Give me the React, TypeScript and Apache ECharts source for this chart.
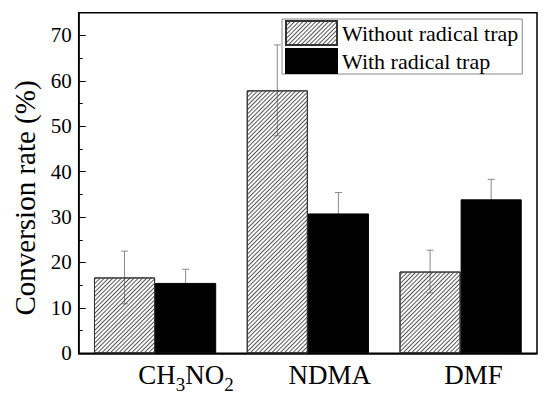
import React, { useEffect, useRef } from "react";
import * as echarts from "echarts";

const categories = ["CH3NO2", "NDMA", "DMF"];
const withoutTrap = [16.7, 57.9, 18.0];
const withoutErr = [5.8, 10.0, 4.7];
const withTrap = [15.5, 30.8, 33.9];
const withErr = [3.0, 4.6, 4.4];
const seriesNames = ["Without radical trap", "With radical trap"];
const labelShift: Record<string, number> = { CH3NO2: 62, NDMA: 44, DMF: 26 };

const FONT = "'Liberation Serif', 'Times New Roman', serif";

export default function App() {
  const ref = useRef<HTMLDivElement>(null);
  useEffect(() => {
    if (!ref.current) return;
    const chart = echarts.init(ref.current, null, { renderer: "svg" });
    const hatch = {
      symbol: "rect",
      dashArrayX: [1, 0],
      dashArrayY: [1, 1.5],
      rotation: -Math.PI / 4,
      color: "#555",
      symbolSize: 1,
    };
    const errSeries = (vals: number[], errs: number[], sign: number) => ({
      type: "custom",
      z: 1,
      silent: true,
      data: vals.map((v, i) => [i, v, errs[i]]),
      encode: { x: 0, y: 1 },
      renderItem: (params: any, api: any) => {
        const i = api.value(0);
        const v = api.value(1);
        const e = api.value(2);
        const band = api.size([1, 0])[0];
        const off = sign * band * 0.2;
        const top = api.coord([i, v + e]);
        const bot = api.coord([i, v - e]);
        const x = top[0] + off;
        const cap = 3.5;
        const st = { stroke: "#8a8a8a", lineWidth: 1 };
        return {
          type: "group",
          children: [
            { type: "line", shape: { x1: x, y1: top[1], x2: x, y2: bot[1] }, style: st },
            { type: "line", shape: { x1: x - cap, y1: top[1], x2: x + cap, y2: top[1] }, style: st },
            { type: "line", shape: { x1: x - cap, y1: bot[1], x2: x + cap, y2: bot[1] }, style: st },
          ],
        };
      },
    });
    const rich: any = {
      s: { fontFamily: FONT, fontSize: 19, color: "#000", lineHeight: 14, verticalAlign: "bottom" },
      n: { fontFamily: FONT, fontSize: 27, color: "#000", lineHeight: 38 },
    };
    categories.forEach((c, k) => {
      rich["p" + k] = { width: labelShift[c], height: 10 };
    });
    chart.setOption({
      animation: false,
      textStyle: { fontFamily: FONT },
      grid: {
        left: 78.7,
        right: 13,
        top: 12.7,
        bottom: 51.7,
        show: true,
        borderColor: "#000",
        borderWidth: 1.5,
        backgroundColor: "#fff",
      },
      legend: {
        data: seriesNames,
        orient: "vertical",
        left: 282,
        top: 19,
        itemWidth: 51,
        itemHeight: 24,
        itemGap: 2,
        padding: [1, 4, 0, 3],
        borderColor: "#888",
        borderWidth: 1,
        backgroundColor: "#fff",
        icon: "rect",
        selectedMode: false,
        textStyle: { fontFamily: FONT, fontSize: 22, color: "#000", lineHeight: 22 },
      },
      xAxis: {
        type: "category",
        data: categories,
        axisTick: { show: false },
        axisLine: { lineStyle: { color: "#000", width: 1.5 } },
        axisLabel: {
          interval: 0,
          margin: 3,
          formatter: (val: string) => {
            const k = categories.indexOf(val);
            const body = val
              .split(/(\d)/)
              .filter((t) => t.length)
              .map((t) => (/\d/.test(t) ? `{s|${t}}` : `{n|${t}}`))
              .join("");
            return `{p${k}|}` + body;
          },
          rich,
        },
      },
      yAxis: [
        {
          type: "value",
          min: 0,
          max: 75,
          interval: 10,
          name: "Conversion rate (%)",
          nameLocation: "middle",
          nameRotate: 90,
          nameGap: 39,
          nameTextStyle: { fontFamily: FONT, fontSize: 29, color: "#000", padding: [0, 30, 0, 0] },
          axisLine: { show: true, lineStyle: { color: "#000", width: 1.5 } },
          axisTick: { show: true, inside: true, length: 7, lineStyle: { color: "#000", width: 1 } },
          axisLabel: { fontFamily: FONT, fontSize: 21, color: "#000", margin: 7, showMaxLabel: false },
          splitLine: { show: false },
        },
        {
          type: "value",
          min: 0,
          max: 75,
          interval: 5,
          position: "left",
          axisLine: { show: false },
          axisTick: { show: true, inside: true, length: 4, lineStyle: { color: "#000", width: 1 } },
          axisLabel: { show: false },
          splitLine: { show: false },
        },
      ],
      series: [
        {
          name: seriesNames[0],
          type: "bar",
          data: withoutTrap,
          barWidth: "40%",
          barGap: "0%",
          z: 2,
          itemStyle: {
            color: "rgba(255,255,255,0)",
            borderColor: "#333",
            borderWidth: 1,
            decal: hatch,
          },
        },
        {
          name: seriesNames[1],
          type: "bar",
          data: withTrap,
          barWidth: "40%",
          barGap: "0%",
          z: 2,
          itemStyle: { color: "#000", borderColor: "#000", borderWidth: 1 },
        },
        errSeries(withoutTrap, withoutErr, -1),
        errSeries(withTrap, withErr, 1),
      ],
    });
    return () => chart.dispose();
  }, []);
  return (
    <div
      ref={ref}
      style={{ position: "fixed", left: 0, top: 0, width: 550, height: 405, background: "#fff" }}
    />
  );
}
